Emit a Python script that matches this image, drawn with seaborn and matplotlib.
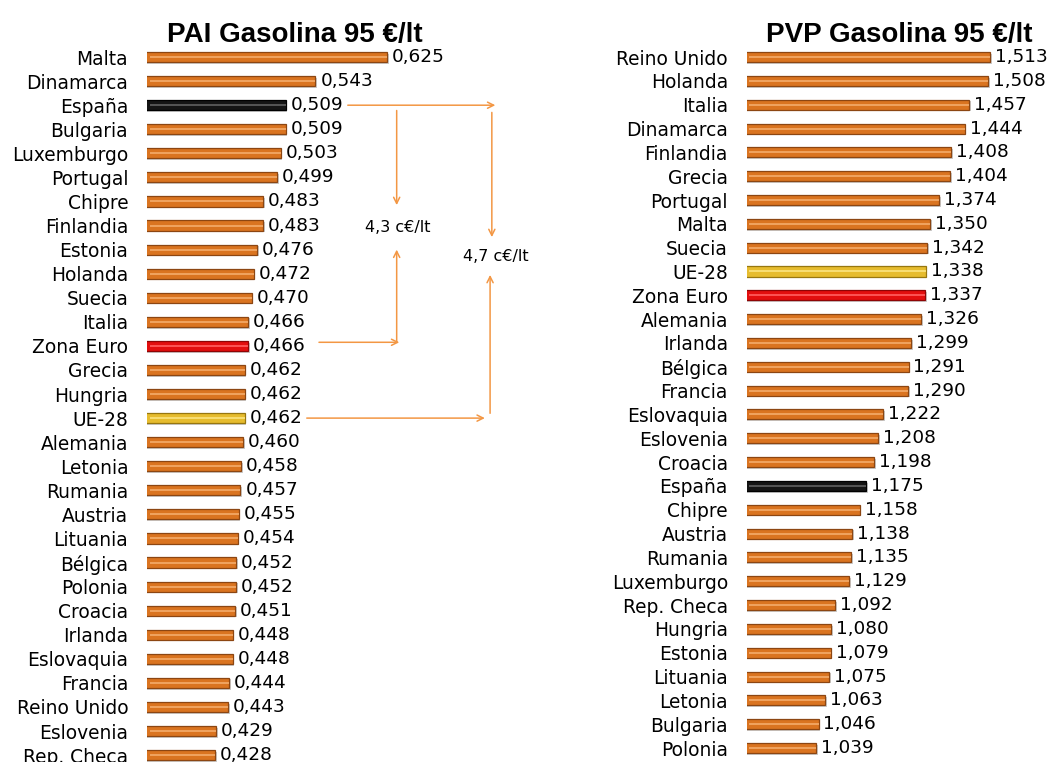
import pandas as pd
import numpy as np
import matplotlib
matplotlib.use('Agg')
import matplotlib.pyplot as plt
import matplotlib.patheffects as pe
import seaborn as sns

# PAI (precio antes de impuestos)
pai_paises = ['Malta', 'Dinamarca', 'España', 'Bulgaria', 'Luxemburgo', 'Portugal', 'Chipre',
              'Finlandia', 'Estonia', 'Holanda', 'Suecia', 'Italia', 'Zona Euro', 'Grecia',
              'Hungria', 'UE-28', 'Alemania', 'Letonia', 'Rumania', 'Austria', 'Lituania',
              'Bélgica', 'Polonia', 'Croacia', 'Irlanda', 'Eslovaquia', 'Francia',
              'Reino Unido', 'Eslovenia', 'Rep. Checa']
pai_valores = [0.625, 0.543, 0.509, 0.509, 0.503, 0.499, 0.483, 0.483, 0.476, 0.472, 0.470,
               0.466, 0.466, 0.462, 0.462, 0.462, 0.460, 0.458, 0.457, 0.455, 0.454, 0.452,
               0.452, 0.451, 0.448, 0.448, 0.444, 0.443, 0.429, 0.428]

# PVP (precio venta al publico)
pvp_paises = ['Reino Unido', 'Holanda', 'Italia', 'Dinamarca', 'Finlandia', 'Grecia', 'Portugal',
              'Malta', 'Suecia', 'UE-28', 'Zona Euro', 'Alemania', 'Irlanda', 'Bélgica',
              'Francia', 'Eslovaquia', 'Eslovenia', 'Croacia', 'España', 'Chipre', 'Austria',
              'Rumania', 'Luxemburgo', 'Rep. Checa', 'Hungria', 'Estonia', 'Lituania',
              'Letonia', 'Bulgaria', 'Polonia']
pvp_valores = [1.513, 1.508, 1.457, 1.444, 1.408, 1.404, 1.374, 1.350, 1.342, 1.338, 1.337,
               1.326, 1.299, 1.291, 1.290, 1.222, 1.208, 1.198, 1.175, 1.158, 1.138, 1.135,
               1.129, 1.092, 1.080, 1.079, 1.075, 1.063, 1.046, 1.039]

# colores: cara, borde, brillo
estilos = {
    'normal': ('#DA7420', '#8C4612', '#F2A865'),
    'España': ('#141414', '#000000', '#5A5A5A'),
    'Zona Euro': ('#E30E0E', '#8E0505', '#FF5A5A'),
    'UE-28': ('#E6BC2E', '#97770F', '#F9E17A'),
}
flecha_col = '#F39744'

sns.set_style('white')
plt.rcParams['font.family'] = ['DejaVu Sans']
plt.rcParams['text.color'] = 'black'
plt.rcParams['ytick.color'] = 'black'
plt.rcParams['ytick.labelcolor'] = 'black'

fig = plt.figure(figsize=(10.51, 7.62), dpi=100)
ax1 = fig.add_axes([147 / 1051, -0.0067, 349.2 / 1051, 0.9476])
ax2 = fig.add_axes([746.7 / 1051, 0.0026, 275.2 / 1051, 0.9382])


def panel(ax, paises, valores, xmin, xmax):
    df = pd.DataFrame({'pais': paises, 'valor': valores})
    pal = {p: estilos.get(p, estilos['normal'])[0] for p in paises}
    sns.barplot(data=df, x='valor', y='pais', hue='pais', palette=pal, legend=False,
                orient='h', width=0.42, ax=ax, saturation=1)
    for bars in ax.containers:
        for bar in bars:
            pais = paises[int(round(bar.get_y() + bar.get_height() / 2))]
            bar.set_edgecolor(estilos.get(pais, estilos['normal'])[1])
            bar.set_linewidth(0.9)
            bar.set_path_effects([pe.SimplePatchShadow(offset=(1.2, -1.2), shadow_rgbFace='#999999',
                                                       alpha=0.5), pe.Normal()])
    brillos = [estilos.get(p, estilos['normal'])[2] for p in paises]
    ax.hlines(np.arange(len(paises)), xmin + 0.01 * (xmax - xmin), valores,
              colors=brillos, lw=1.3, zorder=3)
    for i, v in enumerate(valores):
        ax.annotate(f'{v:.3f}'.replace('.', ','), (v, i), xytext=(3.5, 0),
                    textcoords='offset points', va='center', ha='left', fontsize=13.3)
    ax.set_xlim(xmin, xmax)
    ax.set_ylim(len(paises) - 0.5, -0.5)
    ax.set_xlabel('')
    ax.set_ylabel('')
    ax.set_xticks([])
    ax.tick_params(axis='y', length=0, pad=13.5, labelsize=13.4, labelcolor='black')
    sns.despine(ax=ax, left=True, bottom=True)
    ax.patch.set_alpha(0)


panel(ax1, pai_paises, pai_valores, 0.35, 0.75)
panel(ax2, pvp_paises, pvp_valores, 0.85, 1.6)

fig.text(295 / 1051, 1 - 42 / 762, 'PAI Gasolina 95 €/lt', ha='center', va='baseline',
         fontsize=20, fontweight='bold', family='Liberation Sans')
fig.text(899 / 1051, 1 - 42 / 762, 'PVP Gasolina 95 €/lt', ha='center', va='baseline',
         fontsize=20, fontweight='bold', family='Liberation Sans')

# flechas de diferencia Espana vs Zona Euro / UE-28
i_es = pai_paises.index('España')
i_ze = pai_paises.index('Zona Euro')
i_ue = pai_paises.index('UE-28')
v_es = pai_valores[i_es]
v_ze = pai_valores[i_ze]
v_ue = pai_valores[i_ue]
arr = dict(arrowstyle='->', color=flecha_col, lw=1.1, shrinkA=0, shrinkB=0, mutation_scale=11)
col1 = 0.636
col2 = 0.745


def flecha(x0, y0, x1, y1, props):
    ax1.annotate('', xy=(x1, y1), xytext=(x0, y0), arrowprops=props, annotation_clip=False)


flecha(v_es + 0.071, i_es, 0.749, i_es, arr)
flecha(col1, i_es + 0.22, col1, 6.15, arr)
flecha(col1, i_ze - 0.15, col1, 8.0, arr)
flecha(v_ze + 0.081, i_ze - 0.15, col1 + 0.003, i_ze - 0.15, arr)
ax1.text(col1 + 0.001, 7.1, f'{(v_es - v_ze) * 100:.1f} c€/lt'.replace('.', ','),
         ha='center', va='center', fontsize=11.5)

flecha(col2, i_es + 0.3, col2, 7.48, arr)
flecha(col2 - 0.002, i_ue - 0.2, col2 - 0.002, 9.05, arr)
flecha(v_ue + 0.071, i_ue, col2 - 0.008, i_ue, arr)
ax1.text(col2 + 0.004, 8.3, f'{(v_es - v_ue) * 100:.1f} c€/lt'.replace('.', ','),
         ha='center', va='center', fontsize=11.5)

fig.savefig('out.png', dpi=100)
